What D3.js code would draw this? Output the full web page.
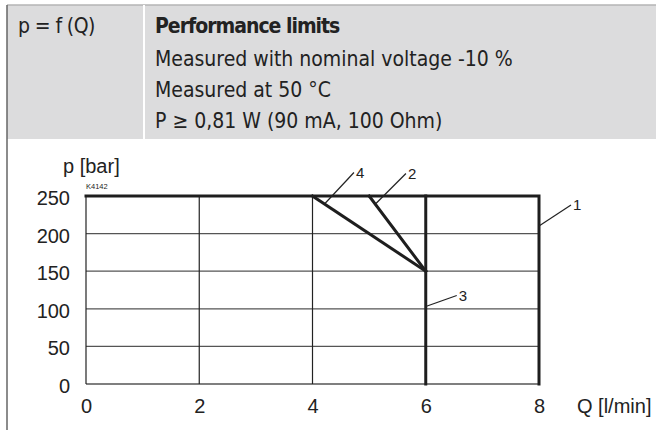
<!DOCTYPE html>
<html>
<head>
<meta charset="utf-8">
<script src="https://cdn.jsdelivr.net/npm/d3@7"></script>
<style>
  body { margin: 0; background: #fff; }
  .head { font-family: "Liberation Sans Narrow", "DejaVu Sans Condensed", sans-serif; font-size: 21px; fill: #222; }
  .tick text, .lab { font-family: "Liberation Sans", Arial, sans-serif; fill: #222; }
</style>
</head>
<body>
<div class="myChart"></div>
<script>
// Data
var headLeft = "p = f (Q)";
var headLines = ["Performance limits", "Measured with nominal voltage -10 %", "Measured at 50 \u00b0C", "P \u2265 0,81 W (90 mA, 100 Ohm)"];
var xTicks = [0, 2, 4, 6, 8];
var yTicks = [0, 50, 100, 150, 200, 250];
var xGrid = [0, 2, 4];
// limit curves, [Q, p]
var curve1 = [[0, 250], [8, 250], [8, 0]];
var curve2 = [[5, 250], [6, 150]];
var curve3 = [[6, 250], [6, 0]];
var curve4 = [[4, 250], [6, 150]];
var curves = [curve1, curve2, curve3, curve4];
// callouts: label, anchor point [Q, p]
var callouts = [
  { name: "1", q: 8, p: 210 },
  { name: "2", q: 5.12, p: 240 },
  { name: "3", q: 6, p: 103 },
  { name: "4", q: 4.22, p: 240 }
];

// Canvas Size
var width = 656;
var height = 430;

var svg = d3.select(".myChart").append("svg")
    .attr("width", width)
    .attr("height", height);

// Header box
svg.append("rect")
    .attr("x", 7).attr("y", 5)
    .attr("width", width - 7).attr("height", 134)
    .style("fill", "#dcdcdd");
svg.append("line")
    .attr("x1", 7).attr("x2", width).attr("y1", 5).attr("y2", 5)
    .style("stroke", "#b4b4b4").style("stroke-width", 1.5);
svg.append("line")
    .attr("x1", 144).attr("x2", 144).attr("y1", 5).attr("y2", 139)
    .style("stroke", "#fff").style("stroke-width", 2);
svg.append("line")
    .attr("x1", 7).attr("x2", 7).attr("y1", 5).attr("y2", height)
    .style("stroke", "#666").style("stroke-width", 1.5);

svg.append("text").attr("class", "head")
    .attr("x", 18).attr("y", 33)
    .style("letter-spacing", "-0.6px")
    .text(headLeft);

var lineY = [33, 66, 97, 128];
svg.selectAll("text.hl")
    .data(headLines)
    .enter()
    .append("text")
    .attr("class", "head hl")
    .attr("x", 155)
    .attr("y", function(d, i) { return lineY[i]; })
    .style("font-weight", function(d, i) { return i == 0 ? "bold" : "normal"; })
    .style("letter-spacing", function(d, i) { return i == 0 ? "-1px" : "0px"; })
    .text(function(d) { return d; });

// Scales
var xScale = d3.scaleLinear().domain([0, 8]).range([86, 539]);
var yScale = d3.scaleLinear().domain([0, 250]).range([384, 196]);

// Grid
svg.selectAll("line.hgrid")
    .data(yTicks)
    .enter()
    .append("line")
    .attr("class", "hgrid")
    .attr("x1", xScale(0)).attr("x2", xScale(8))
    .attr("y1", function(d) { return yScale(d); })
    .attr("y2", function(d) { return yScale(d); })
    .style("stroke", "#555").style("stroke-width", 1.3);

svg.selectAll("line.vgrid")
    .data(xGrid)
    .enter()
    .append("line")
    .attr("class", "vgrid")
    .attr("x1", function(d) { return xScale(d); })
    .attr("x2", function(d) { return xScale(d); })
    .attr("y1", yScale(0)).attr("y2", yScale(250))
    .style("stroke", "#222").style("stroke-width", 1.2);

// Axis labels
var yAxis = d3.axisLeft(yScale).tickValues(yTicks).tickSize(0).tickPadding(16);
var xAxis = d3.axisBottom(xScale).tickValues(xTicks).tickSize(0).tickPadding(15);

svg.append("g")
    .attr("transform", "translate(" + xScale(0) + ",2)")
    .call(yAxis)
    .call(function(g) { g.select(".domain").remove(); })
    .selectAll("text").style("font-size", "20px");

svg.append("g")
    .attr("transform", "translate(0," + yScale(0) + ")")
    .call(xAxis)
    .call(function(g) { g.select(".domain").remove(); })
    .selectAll("text").style("font-size", "20px");

svg.append("text").attr("class", "lab")
    .attr("x", 577).attr("y", 413)
    .style("font-size", "20px")
    .text("Q [l/min]");

svg.append("text").attr("class", "lab")
    .attr("x", 63).attr("y", 173)
    .style("font-size", "20px")
    .text("p [bar]");

svg.append("text").attr("class", "lab")
    .attr("x", 86).attr("y", 189)
    .style("font-size", "7.5px")
    .text("K4142");

// Limit curves
var line = d3.line()
    .x(function(d) { return xScale(d[0]); })
    .y(function(d) { return yScale(d[1]); });

svg.selectAll("path.curve")
    .data(curves)
    .enter()
    .append("path")
    .attr("class", "curve")
    .attr("d", line)
    .style("fill", "none")
    .style("stroke", "#1e1e1e")
    .style("stroke-width", 3)
    .style("stroke-linejoin", "miter")
    .style("stroke-linecap", "square");

// Callouts
var lead = { "1": [32, -21], "2": [30, -30], "3": [31, -11], "4": [29, -31] };

svg.selectAll("line.lead")
    .data(callouts)
    .enter()
    .append("line")
    .attr("class", "lead")
    .attr("x1", function(d) { return xScale(d.q); })
    .attr("y1", function(d) { return yScale(d.p); })
    .attr("x2", function(d) { return xScale(d.q) + lead[d.name][0]; })
    .attr("y2", function(d) { return yScale(d.p) + lead[d.name][1]; })
    .style("stroke", "#222").style("stroke-width", 1.2);

svg.selectAll("text.callout")
    .data(callouts)
    .enter()
    .append("text")
    .attr("class", "lab callout")
    .attr("x", function(d) { return xScale(d.q) + lead[d.name][0] + 2; })
    .attr("y", function(d) { return yScale(d.p) + lead[d.name][1] + 5; })
    .style("font-size", "15px")
    .text(function(d) { return d.name; });
</script>
</body>
</html>
